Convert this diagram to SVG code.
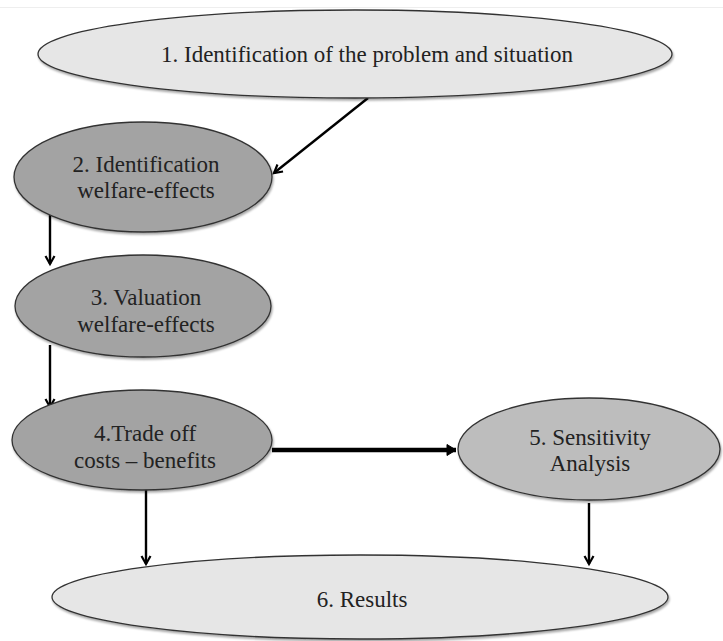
<svg xmlns="http://www.w3.org/2000/svg" width="723" height="641" viewBox="0 0 723 641">
<defs>
<style>
.n{stroke:#333;stroke-width:1.3}
.t{font-family:"Liberation Serif","Times New Roman",serif;font-size:23px;fill:#222;text-anchor:middle}
.c{stroke:#000;stroke-width:2.4;fill:none;marker-end:url(#ah)}
</style>
<marker id="ah" markerWidth="12" markerHeight="12" refX="9" refY="6" orient="auto" markerUnits="userSpaceOnUse">
<path d="M1,1.5 L9,6 L1,10.5" fill="none" stroke="#000" stroke-width="2.2"/>
</marker>
<marker id="ah2" markerWidth="14" markerHeight="14" refX="10" refY="7" orient="auto" markerUnits="userSpaceOnUse">
<path d="M1,1.5 L10,7 L1,12.5 Z" fill="#000" stroke="#000" stroke-width="1"/>
</marker>
<filter id="sh" x="-5%" y="-5%" width="110%" height="115%">
<feDropShadow dx="1" dy="2" stdDeviation="1.2" flood-color="#000" flood-opacity="0.35"/>
</filter>
</defs>
<rect width="723" height="641" fill="#fff"/>
<line x1="0" y1="7.5" x2="723" y2="7.5" stroke="#eee" stroke-width="1"/>
<g id="connectors">
<line class="c" x1="368" y1="98" x2="274" y2="173"/>
<line class="c" x1="50" y1="187" x2="50" y2="264"/>
<line class="c" x1="50" y1="345" x2="50" y2="407"/>
<line x1="272" y1="450" x2="456" y2="450" style="stroke:#000;stroke-width:4.5;marker-end:url(#ah2)"/>
<line class="c" x1="146" y1="484" x2="146" y2="564"/>
<line class="c" x1="589" y1="503" x2="589" y2="564"/>
</g>
<g id="n1"><ellipse class="n" cx="355" cy="54" rx="317" ry="44" fill="#e6e6e6" filter="url(#sh)"/><text class="t" x="367" y="62">1. Identification of the problem and situation</text></g>
<g id="n2"><ellipse class="n" cx="143" cy="177" rx="129" ry="55" fill="#a3a3a3" filter="url(#sh)"/><text class="t" x="146" y="172">2. Identification</text><text class="t" x="146" y="198">welfare-effects</text></g>
<g id="n3"><ellipse class="n" cx="143" cy="306" rx="128" ry="51" fill="#a3a3a3" filter="url(#sh)"/><text class="t" x="146" y="305">3. Valuation</text><text class="t" x="146" y="332">welfare-effects</text></g>
<g id="n4"><ellipse class="n" cx="142" cy="440" rx="130" ry="50" fill="#a3a3a3" filter="url(#sh)"/><text class="t" x="145" y="441">4.Trade off</text><text class="t" x="145" y="468">costs – benefits</text></g>
<g id="n5"><ellipse class="n" cx="589" cy="449" rx="131" ry="51" fill="#bdbdbd" filter="url(#sh)"/><text class="t" x="590" y="445">5. Sensitivity</text><text class="t" x="590" y="471">Analysis</text></g>
<g id="n6"><ellipse class="n" cx="360" cy="597" rx="308" ry="42" fill="#e6e6e6" filter="url(#sh)"/><text class="t" x="362" y="607">6. Results</text></g>
</svg>
